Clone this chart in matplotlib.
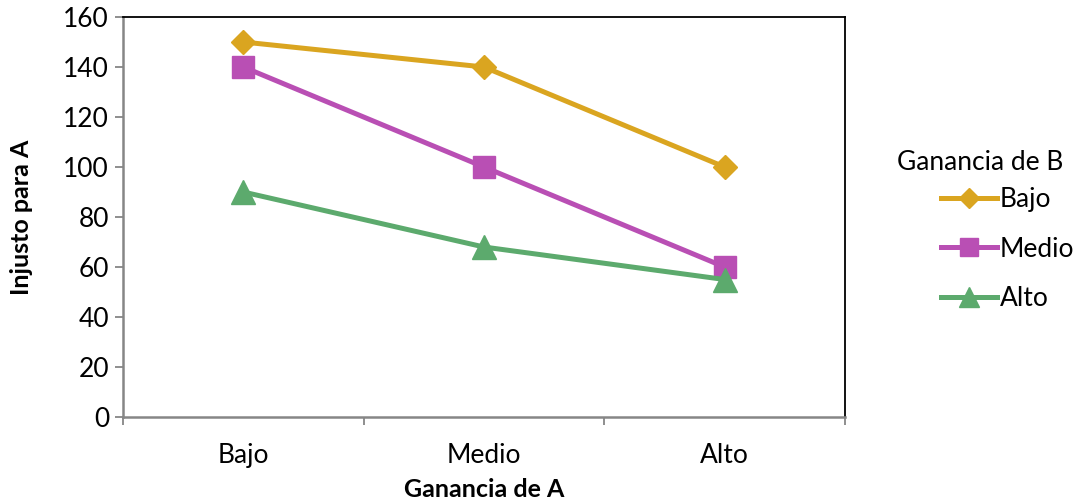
import numpy as np
import matplotlib.pyplot as plt
from matplotlib.lines import Line2D

plt.rcParams['font.family'] = ['Lato', 'DejaVu Sans']

categories = ["Bajo", "Medio", "Alto"]
series_names = ["Bajo", "Medio", "Alto"]
bajo = [150, 140, 100]
medio = [140, 100, 60]
alto = [90, 68, 55]
y_ticks = [0, 20, 40, 60, 80, 100, 120, 140, 160]

colors = ["#DAA520", "#B94FB4", "#5CAA6D"]
markers = ["D", "s", "^"]
msizes = [12, 16, 17]

fs = 19
fs_bold = 18

fig = plt.figure(figsize=(10.73, 4.99), dpi=100)
ax = fig.add_axes([0.1146, 0.1643, 0.6729, 0.8016])

x = np.arange(len(categories))
handles = []
for vals, c, m, ms, name in zip([bajo, medio, alto], colors, markers, msizes, series_names):
    ax.plot(x, vals, color=c, lw=3.6, marker=m, ms=ms, mec=c, mfc=c, zorder=3)
    handles.append(Line2D([0], [0], color=c, lw=3.6, marker=m, ms=ms * 0.85, mec=c, mfc=c))

ax.set_xlim(-0.5, len(categories) - 0.5)
ax.set_ylim(0, 160)
ax.set_yticks(y_ticks)
ax.set_xticks(x)
ax.set_xticklabels(categories)
ax.set_xticks(np.arange(len(categories) + 1) - 0.5, minor=True)
ax.tick_params(axis='x', which='major', length=0, pad=19, labelsize=fs)
ax.tick_params(axis='x', which='minor', length=6, width=1.3, color='#868686', direction='out')
ax.tick_params(axis='y', length=6, width=1.3, color='#868686', direction='out', labelsize=fs, pad=4)

for side in ['left', 'bottom']:
    ax.spines[side].set_color('#868686')
    ax.spines[side].set_linewidth(1.8)
for side in ['top', 'right']:
    ax.spines[side].set_color('black')
    ax.spines[side].set_linewidth(1.3)

ax.set_xlabel("Ganancia de A", fontsize=fs_bold, fontweight='bold', labelpad=7)
ax.set_ylabel("Injusto para A", fontsize=fs_bold, fontweight='bold', labelpad=22)

# legend title placed separately so the gap to the entries stays tight
fig.text(0.836, 1 - 163 / 499, "Ganancia de B", fontsize=fs, ha='left', va='center')
leg = fig.legend(handles, series_names, loc='upper left',
                 bbox_to_anchor=(0.877, 0.625), frameon=False, fontsize=fs,
                 handlelength=2.12, handletextpad=0.1, labelspacing=0.93,
                 borderpad=0, borderaxespad=0)

fig.savefig("out.png", dpi=100)
